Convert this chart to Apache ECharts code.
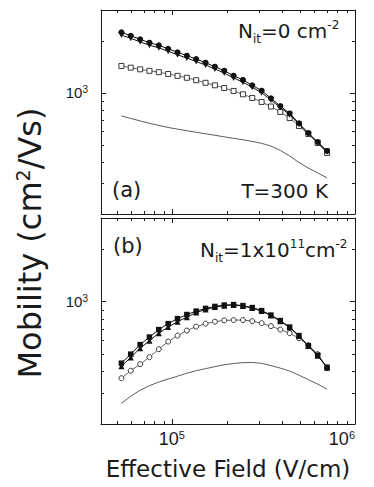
<!DOCTYPE html>
<html><head><meta charset="utf-8">
<script src="https://cdn.jsdelivr.net/npm/echarts@6/dist/echarts.min.js"></script>
<style>html,body{margin:0;padding:0;background:#fff}#c{width:374px;height:487px}</style>
</head><body><div id="c"></div>
<script>
// ---- data ----
const field = [53000, 59600, 67100, 75400, 84800, 95400, 107300, 120700, 135700, 152700, 171700, 193100, 217200, 244300, 274700, 309000, 347500, 390900, 439600, 494400, 556100, 625500, 703500];

// panel (a): N_it = 0
const aFilledCircle   = [2231, 2132, 2033, 1943, 1877, 1794, 1711, 1636, 1565, 1490, 1413, 1340, 1254, 1185, 1104, 1028, 929, 839, 760, 667, 586, 520, 462];
const aFilledTriangle = [2150, 2060, 1965, 1880, 1815, 1735, 1655, 1585, 1515, 1445, 1370, 1300, 1218, 1150, 1075, 1000, 908, 822, 748, 658, 580, 515, 458];
const aOpenSquare     = [1427, 1395, 1365, 1338, 1314, 1283, 1252, 1220, 1181, 1141, 1104, 1065, 1024, 980, 933, 885, 833, 775, 715, 643, 578, 513, 450];
const aLine           = [735, 711, 688, 667, 648, 631, 617, 604, 592, 580, 569, 557, 546, 536, 524, 511, 493, 465, 432, 396, 368, 345, 323];

// panel (b): N_it = 1e11
const bFilledSquare   = [445, 501, 568, 627, 692, 748, 799, 843, 882, 914, 938, 955, 961, 948, 924, 888, 837, 779, 715, 639, 560, 494, 422];
const bFilledTriangle = [428, 479, 542, 598, 660, 715, 768, 815, 865, 900, 930, 948, 955, 942, 918, 882, 832, 773, 710, 635, 557, 491, 419];
const bOpen           = [365, 403, 439, 482, 535, 591, 639, 683, 719, 748, 768, 781, 784, 784, 773, 753, 724, 692, 660, 618, 564, 501, 417];
const bLine           = [263, 288, 312, 331, 347, 361, 375, 390, 403, 414, 425, 436, 443, 448, 449, 444, 431, 417, 401, 380, 358, 338, 316];

// axes
const xRange = [41000, 1000000];
const yRange = [200, 3000];
const xMinorTicks = [50000, 60000, 70000, 80000, 90000, 200000, 300000, 400000, 500000, 600000, 700000, 800000, 900000];
const yMinorTicks = [300, 400, 500, 600, 700, 800, 900, 2000];

// ---- chart ----
const LS = '"Liberation Sans", Arial, sans-serif';
const DJ = '"DejaVu Sans", sans-serif';
const INK = '#1a1a1a';
const chart = echarts.init(document.getElementById('c'), null, {renderer: 'svg'});

function isPow10(v) { const l = Math.log10(v); return Math.abs(l - Math.round(l)) < 1e-6; }

function xAxisDef(grid, position, showLabel) {
  return {
    type: 'log', logBase: 10, gridIndex: grid, position: position,
    min: xRange[0], max: xRange[1],
    axisLine: {show: true, onZero: false, lineStyle: {color: INK, width: 1}},
    axisTick: {show: true, inside: true, length: 5, lineStyle: {color: INK, width: 1}},
    splitLine: {show: false}, minorTick: {show: false},
    axisLabel: {
      show: showLabel, margin: 5, color: INK, alignMaxLabel: 'right', showMinLabel: false,
      formatter: function (v) { return isPow10(v) ? '{b|10}{s|' + Math.round(Math.log10(v)) + '}' : ''; },
      rich: {
        b: {fontSize: 18, lineHeight: 20, fontFamily: LS, color: INK, verticalAlign: 'middle'},
        s: {fontSize: 11, lineHeight: 11, fontFamily: LS, color: INK, padding: [0, 0, 9, 0], verticalAlign: 'middle'}
      }
    }
  };
}
function yAxisDef(grid, position, showLabel) {
  return {
    type: 'log', logBase: 10, gridIndex: grid, position: position,
    min: yRange[0], max: yRange[1],
    axisLine: {show: true, onZero: false, lineStyle: {color: INK, width: 1}},
    axisTick: {show: true, inside: true, length: 5, lineStyle: {color: INK, width: 1}},
    splitLine: {show: false}, minorTick: {show: false},
    axisLabel: {
      show: showLabel, margin: 13, color: INK,
      formatter: function (v) { return isPow10(v) ? '{b|10}{s|' + Math.round(Math.log10(v)) + '}' : ''; },
      rich: {
        b: {fontSize: 15, lineHeight: 18, fontFamily: LS, color: INK, verticalAlign: 'middle'},
        s: {fontSize: 10, lineHeight: 10, fontFamily: LS, color: INK, padding: [0, 0, 7, 0], verticalAlign: 'middle'}
      }
    }
  };
}

const xAxes = [xAxisDef(0, 'bottom', false), xAxisDef(0, 'top', false), xAxisDef(1, 'bottom', true), xAxisDef(1, 'top', false)];
xAxes[2].name = 'Effective Field (V/cm)';
xAxes[2].nameLocation = 'middle';
xAxes[2].nameGap = 33;
xAxes[2].nameTextStyle = {fontSize: 23, fontFamily: DJ, color: INK};
const yAxes = [yAxisDef(0, 'left', true), yAxisDef(0, 'right', false), yAxisDef(1, 'left', true), yAxisDef(1, 'right', false)];

const series = [];
function addLine(grid, values, cfg) {
  series.push(Object.assign({
    type: 'line', xAxisIndex: grid * 2, yAxisIndex: grid * 2,
    data: field.map(function (x, i) { return [x, values[i]]; }),
    animation: false, silent: true, emphasis: {disabled: true}, clip: true
  }, cfg));
}
const thin = {symbol: 'none', showSymbol: false, lineStyle: {color: '#333', width: 0.8}, z: 2};
const open = function (sym) { return {symbol: sym, symbolSize: 5, itemStyle: {color: '#fff', borderColor: '#222', borderWidth: 0.9}, lineStyle: {color: '#555', width: 0.9}, z: 3}; };
const filled = function (sym, size, rot) { return {symbol: sym, symbolSize: size, symbolRotate: rot || 0, itemStyle: {color: '#111'}, lineStyle: {color: '#111', width: 1}, z: 4}; };

addLine(0, aLine, thin);
addLine(0, aOpenSquare, open('rect'));
addLine(0, aFilledTriangle, filled('triangle', 6, 180));
addLine(0, aFilledCircle, filled('circle', 6));
addLine(1, bLine, thin);
addLine(1, bOpen, open('circle'));
addLine(1, bFilledTriangle, filled('triangle', 6, 0));
addLine(1, bFilledSquare, filled('rect', 5.5));

// minor ticks through the axes' scales
function xMinorRender(params, api) {
  const cs = params.coordSys;
  const px = Math.round(api.coord([api.value(0), api.value(1)])[0]) + 0.5;
  const st = {stroke: INK, lineWidth: 1};
  return {type: 'group', children: [
    {type: 'line', shape: {x1: px, y1: cs.y + cs.height, x2: px, y2: cs.y + cs.height - 3}, style: st},
    {type: 'line', shape: {x1: px, y1: cs.y, x2: px, y2: cs.y + 3}, style: st}
  ]};
}
function yMinorRender(params, api) {
  const cs = params.coordSys;
  const py = Math.round(api.coord([api.value(0), api.value(1)])[1]) + 0.5;
  const st = {stroke: INK, lineWidth: 1};
  return {type: 'group', children: [
    {type: 'line', shape: {x1: cs.x, y1: py, x2: cs.x + 3, y2: py}, style: st},
    {type: 'line', shape: {x1: cs.x + cs.width, y1: py, x2: cs.x + cs.width - 3, y2: py}, style: st}
  ]};
}
[0, 1].forEach(function (g) {
  series.push({type: 'custom', xAxisIndex: g * 2, yAxisIndex: g * 2, silent: true, animation: false, clip: false,
    renderItem: xMinorRender, data: xMinorTicks.map(function (v) { return [v, 1000]; })});
  series.push({type: 'custom', xAxisIndex: g * 2, yAxisIndex: g * 2, silent: true, animation: false, clip: false,
    renderItem: yMinorRender, data: yMinorTicks.map(function (v) { return [100000, v]; })});
});

const annRich = {
  b: {fontSize: 20, lineHeight: 24, fontFamily: DJ, fill: INK, verticalAlign: 'middle'},
  sub: {fontSize: 12, lineHeight: 12, fontFamily: DJ, fill: INK, padding: [16, 0, 0, 0], verticalAlign: 'middle'},
  sup: {fontSize: 12, lineHeight: 12, fontFamily: DJ, fill: INK, padding: [0, 0, 12, 0], verticalAlign: 'middle'}
};

const graphic = [
  {type: 'text', x: 30, y: 243, rotation: Math.PI / 2, silent: true,
    style: {text: '{b|Mobility (cm}{sup|2}{b|/Vs)}', align: 'center', verticalAlign: 'middle',
      rich: {
        b: {fontSize: 32, lineHeight: 36, fontFamily: DJ, fill: INK, verticalAlign: 'middle'},
        sup: {fontSize: 19, lineHeight: 19, fontFamily: DJ, fill: INK, padding: [0, 0, 14, 0], verticalAlign: 'middle'}
      }}},
  {type: 'text', x: 238, y: 31, silent: true,
    style: {text: '{b|N}{sub|it}{b|=0 cm}{sup|-2}', align: 'left', verticalAlign: 'middle', rich: annRich}},
  {type: 'text', x: 112, y: 190, silent: true,
    style: {text: '(a)', font: '21px ' + DJ, fill: INK, align: 'left', verticalAlign: 'middle'}},
  {type: 'text', x: 328, y: 191, silent: true,
    style: {text: 'T=300 K', font: '20px ' + DJ, fill: INK, align: 'right', verticalAlign: 'middle'}},
  {type: 'text', x: 113, y: 246, silent: true,
    style: {text: '(b)', font: '21px ' + DJ, fill: INK, align: 'left', verticalAlign: 'middle'}},
  {type: 'text', x: 200, y: 250, silent: true,
    style: {text: '{b|N}{sub|it}{b|=1x10}{sup|11}{b|cm}{sup|-2}', align: 'left', verticalAlign: 'middle', rich: annRich}}
];

chart.setOption({
  backgroundColor: '#fff',
  animation: false,
  textStyle: {fontFamily: LS, color: INK},
  grid: [
    {left: 101, top: 10, width: 254, height: 204, containLabel: false},
    {left: 101, top: 218, width: 254, height: 206, containLabel: false}
  ],
  xAxis: xAxes,
  yAxis: yAxes,
  series: series,
  graphic: graphic
});
</script>
</body></html>
